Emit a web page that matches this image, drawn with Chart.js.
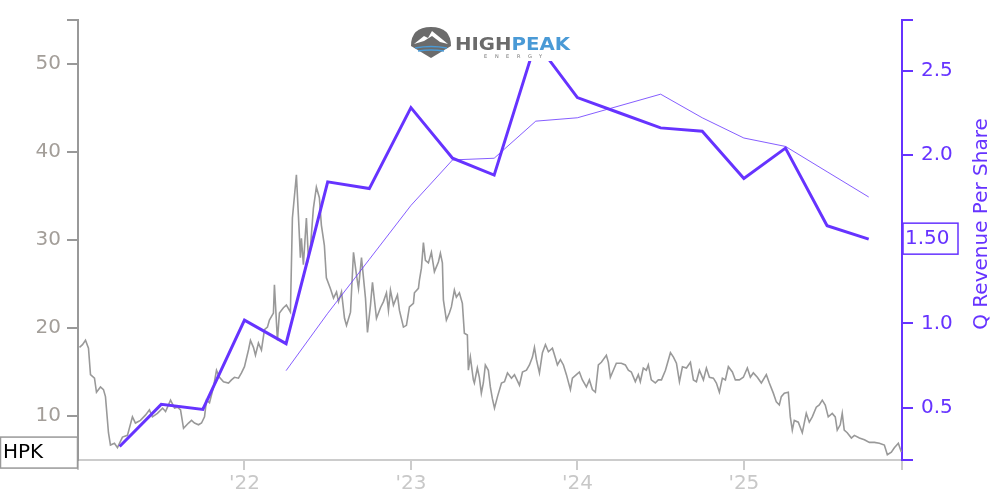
<!DOCTYPE html>
<html>
<head>
<meta charset="utf-8">
<script src="https://cdn.jsdelivr.net/npm/chart.js@4/dist/chart.umd.min.js"></script>
<style>
  body { margin: 0; background: #fff; }
</style>
</head>
<body>
<canvas id="myChart" width="1000" height="500"></canvas>
<script>
// HPK daily close (approx), x in decimal years
const priceYears = [
  2021.009, 2021.027, 2021.045, 2021.063, 2021.075, 2021.099, 2021.111, 2021.135, 2021.153, 2021.165,
  2021.183, 2021.195, 2021.219, 2021.237, 2021.267, 2021.297, 2021.327, 2021.345, 2021.375, 2021.405,
  2021.429, 2021.447, 2021.477, 2021.508, 2021.526, 2021.556, 2021.580, 2021.598, 2021.616, 2021.634,
  2021.664, 2021.682, 2021.700, 2021.724, 2021.742, 2021.760, 2021.772, 2021.790, 2021.814, 2021.832,
  2021.850, 2021.874, 2021.904, 2021.922, 2021.940, 2021.964, 2021.982, 2022.000, 2022.024, 2022.036,
  2022.054, 2022.066, 2022.084, 2022.102, 2022.120, 2022.138, 2022.150, 2022.174, 2022.180, 2022.198,
  2022.210, 2022.234, 2022.252, 2022.276, 2022.288, 2022.312, 2022.324, 2022.336, 2022.342, 2022.354,
  2022.372, 2022.384, 2022.396, 2022.414, 2022.432, 2022.450, 2022.462, 2022.480, 2022.492, 2022.516,
  2022.535, 2022.553, 2022.565, 2022.583, 2022.601, 2022.613, 2022.637, 2022.655, 2022.673, 2022.685,
  2022.703, 2022.727, 2022.739, 2022.757, 2022.769, 2022.793, 2022.817, 2022.835, 2022.853, 2022.865,
  2022.877, 2022.895, 2022.919, 2022.931, 2022.955, 2022.973, 2022.991, 2023.015, 2023.021, 2023.045,
  2023.051, 2023.063, 2023.075, 2023.087, 2023.105, 2023.123, 2023.141, 2023.165, 2023.177, 2023.189,
  2023.195, 2023.213, 2023.231, 2023.243, 2023.261, 2023.273, 2023.291, 2023.309, 2023.321, 2023.339,
  2023.345, 2023.357, 2023.375, 2023.381, 2023.399, 2023.411, 2023.423, 2023.435, 2023.447, 2023.465,
  2023.477, 2023.489, 2023.502, 2023.520, 2023.544, 2023.562, 2023.580, 2023.604, 2023.622, 2023.652,
  2023.670, 2023.694, 2023.712, 2023.730, 2023.742, 2023.754, 2023.772, 2023.790, 2023.808, 2023.826,
  2023.850, 2023.868, 2023.880, 2023.898, 2023.916, 2023.934, 2023.958, 2023.970, 2023.994, 2024.012,
  2024.030, 2024.054, 2024.072, 2024.090, 2024.108, 2024.126, 2024.144, 2024.174, 2024.186, 2024.198,
  2024.216, 2024.234, 2024.264, 2024.288, 2024.306, 2024.324, 2024.348, 2024.366, 2024.378, 2024.396,
  2024.414, 2024.426, 2024.444, 2024.468, 2024.486, 2024.505, 2024.529, 2024.547, 2024.559, 2024.577,
  2024.595, 2024.613, 2024.631, 2024.655, 2024.679, 2024.697, 2024.715, 2024.733, 2024.757, 2024.775,
  2024.793, 2024.817, 2024.835, 2024.853, 2024.871, 2024.889, 2024.907, 2024.931, 2024.949, 2024.973,
  2024.997, 2025.021, 2025.039, 2025.057, 2025.081, 2025.105, 2025.135, 2025.153, 2025.177, 2025.195,
  2025.213, 2025.225, 2025.243, 2025.267, 2025.279, 2025.291, 2025.303, 2025.327, 2025.351, 2025.375,
  2025.393, 2025.411, 2025.435, 2025.453, 2025.471, 2025.489, 2025.507, 2025.531, 2025.549, 2025.561,
  2025.579, 2025.591, 2025.603, 2025.621, 2025.646, 2025.664, 2025.694, 2025.724, 2025.754, 2025.784,
  2025.814, 2025.844, 2025.862, 2025.886, 2025.904, 2025.928, 2025.946
];
const prices = [
  17.8, 18.1, 18.6, 17.7, 14.7, 14.3, 12.7, 13.3, 13.0, 12.2,
  8.1, 6.7, 6.9, 6.4, 7.6, 7.8, 9.9, 9.2, 9.5, 10.1,
  10.7, 9.9, 10.3, 10.9, 10.5, 11.8, 10.9, 11.0, 10.7, 8.6,
  9.2, 9.5, 9.2, 9.0, 9.2, 9.9, 11.8, 11.5, 13.3, 15.2,
  14.4, 13.9, 13.75, 14.1, 14.4, 14.3, 14.9, 15.6, 17.5, 18.6,
  17.8, 16.9, 18.3, 17.5, 19.8, 20.1, 20.9, 21.7, 24.9, 18.6,
  21.7, 22.3, 22.6, 21.8, 32.5, 37.4, 32.8, 28.0, 30.2, 27.2,
  32.5, 28.0, 29.1, 33.6, 36.0, 34.8, 31.7, 29.4, 25.7, 24.5,
  23.4, 24.1, 23.0, 24.1, 21.1, 20.3, 21.8, 28.6, 26.0, 24.5,
  28.0, 23.4, 19.5, 22.6, 25.2, 21.1, 22.3, 23.0, 24.0, 22.0,
  24.3, 22.6, 23.75, 22.0, 20.1, 20.3, 22.4, 22.8, 24.0, 24.5,
  25.45, 26.8, 29.7, 27.7, 27.4, 28.6, 26.4, 27.5, 28.5, 27.4,
  23.2, 20.9, 21.7, 22.4, 24.3, 23.5, 24.0, 22.8, 19.4, 19.2,
  15.2, 16.7, 14.1, 13.75, 15.45, 14.4, 12.6, 13.75, 15.8, 15.2,
  13.3, 12.0, 10.9, 12.2, 13.75, 13.9, 14.9, 14.3, 14.7, 13.5,
  15.0, 15.2, 15.8, 16.7, 17.8, 16.4, 14.9, 17.2, 18.1, 17.3,
  17.7, 16.6, 15.8, 16.4, 15.8, 14.7, 13.0, 14.3, 14.7, 15.0,
  14.1, 13.3, 14.1, 13.0, 12.7, 15.8, 16.1, 16.9, 16.1, 14.4,
  15.2, 16.0, 16.0, 15.8, 15.2, 15.0, 13.9, 14.7, 13.9, 15.45,
  15.2, 15.8, 14.1, 13.75, 14.1, 14.1, 15.2, 16.4, 17.2, 16.7,
  16.0, 13.9, 15.6, 15.45, 16.1, 14.1, 13.9, 15.2, 14.1, 15.45,
  14.4, 14.3, 13.75, 12.7, 14.3, 14.1, 15.6, 15.0, 14.1, 14.1,
  14.4, 15.45, 14.4, 14.9, 14.4, 13.75, 14.7, 13.75, 12.6, 11.6,
  11.25, 12.2, 12.6, 12.7, 9.9, 8.4, 9.5, 9.3, 8.1, 10.3,
  9.3, 9.9, 11.0, 11.25, 11.8, 11.25, 9.9, 10.3, 9.9, 8.4,
  9.0, 10.3, 8.4, 8.1, 7.5, 7.8, 7.5, 7.3, 7.0, 7.0,
  6.9, 6.7, 5.6, 5.9, 6.4, 6.9, 5.9
];

// quarterly revenue per share (thick) and trailing 4Q average (thin)
const quarterEnds = [
  2021.25, 2021.5, 2021.75, 2022.0, 2022.25, 2022.5, 2022.75, 2023.0, 2023.25, 2023.5,
  2023.75, 2024.0, 2024.25, 2024.5, 2024.75, 2025.0, 2025.25, 2025.5, 2025.75
];
const qRevenue = [
  0.27, 0.52, 0.49, 1.02, 0.88, 1.84, 1.80, 2.28, 1.98, 1.88,
  2.67, 2.34, 2.25, 2.16, 2.14, 1.86, 2.04, 1.58, 1.50
];
const ttmQuarterEnds = quarterEnds.slice(4);
const ttmRevenue = [0.72, 1.06, 1.38, 1.70, 1.97, 1.98, 2.20, 2.22, 2.29, 2.36, 2.22, 2.10, 2.05, 1.90, 1.75];

const yearTicks = [2022, 2023, 2024, 2025];
const priceTicks = [10, 20, 30, 40, 50];
const revTicks = [0.5, 1.0, 1.5, 2.0, 2.5];
const ticker = 'HPK';

const purple = '#6633ff';
const font = 'DejaVu Sans';

const xMin = 2021.0, xMax = 2025.95;

const toPts = (xs, ys) => xs.map((x, i) => ({ x: x, y: ys[i] }));

const extras = {
  id: 'extras',
  afterDraw(c) {
    const ctx = c.ctx;
    const yL = c.scales.yL, yR = c.scales.yR;
    ctx.save();

    // logo
    ctx.fillStyle = '#fff';
    ctx.fillRect(408, 22, 166, 39);
    ctx.fillStyle = '#6b6b6b';
    ctx.beginPath();
    ctx.moveTo(411, 46);
    ctx.quadraticCurveTo(411, 27, 431, 27);
    ctx.quadraticCurveTo(451, 27, 451, 46);
    ctx.lineTo(431, 58);
    ctx.closePath();
    ctx.fill();
    ctx.fillStyle = '#fff';
    ctx.beginPath();
    ctx.moveTo(414, 44);
    ctx.lineTo(424, 36);
    ctx.lineTo(428, 38);
    ctx.lineTo(432, 31);
    ctx.lineTo(448, 44);
    ctx.lineTo(440, 42);
    ctx.lineTo(432, 36);
    ctx.lineTo(424, 41);
    ctx.closePath();
    ctx.fill();
    ctx.strokeStyle = '#4a9ad6';
    ctx.lineWidth = 1.6;
    ctx.beginPath();
    ctx.moveTo(415, 48); ctx.quadraticCurveTo(431, 45, 447, 48);
    ctx.moveTo(418, 51); ctx.quadraticCurveTo(431, 49, 444, 51);
    ctx.stroke();
    ctx.font = 'bold 17px ' + font;
    ctx.textBaseline = 'alphabetic';
    ctx.textAlign = 'left';
    const wH = ctx.measureText('HIGH').width, wP = ctx.measureText('PEAK').width;
    const sx = 115 / (wH + wP);
    ctx.save();
    ctx.translate(455, 50);
    ctx.scale(sx, 1);
    ctx.fillStyle = '#6b6b6b';
    ctx.fillText('HIGH', 0, 0);
    ctx.fillStyle = '#4a9ad6';
    ctx.fillText('PEAK', wH, 0);
    ctx.restore();
    ctx.font = '5px ' + font;
    ctx.fillStyle = '#777';
    'ENERGY'.split('').forEach((ch, i) => ctx.fillText(ch, 484 + i * 11, 58));

    // last revenue value box
    const lastRev = qRevenue[qRevenue.length - 1];
    const ry = yR.getPixelForValue(lastRev);
    ctx.fillStyle = '#fff';
    ctx.fillRect(903, ry - 16, 55, 31);
    ctx.strokeStyle = purple;
    ctx.lineWidth = 1.5;
    ctx.strokeRect(903, ry - 16, 55, 31);
    ctx.fillStyle = purple;
    ctx.font = '20px ' + font;
    ctx.textBaseline = 'middle';
    ctx.fillText(lastRev.toFixed(2), 905, ry);

    // ticker box at last price
    const py = yL.getPixelForValue(prices[prices.length - 1]);
    ctx.fillStyle = '#fff';
    ctx.fillRect(0.5, py - 15, 77, 31);
    ctx.strokeStyle = '#999';
    ctx.strokeRect(0.5, py - 15, 77, 31);
    ctx.fillStyle = '#000';
    ctx.fillText(ticker, 3, py + 1);

    // right axis title
    ctx.translate(982, 224);
    ctx.rotate(-Math.PI / 2);
    ctx.textAlign = 'center';
    ctx.fillStyle = purple;
    ctx.fillText('Q Revenue Per Share', 0, 0);
    ctx.restore();
  }
};

new Chart(document.getElementById('myChart'), {
  type: 'line',
  data: {
    datasets: [
      {
        data: toPts(quarterEnds, qRevenue),
        yAxisID: 'yR',
        borderColor: purple,
        borderWidth: 3,
        pointRadius: 0,
        order: 1
      },
      {
        data: toPts(ttmQuarterEnds, ttmRevenue),
        yAxisID: 'yR',
        borderColor: purple,
        borderWidth: 0.8,
        pointRadius: 0,
        order: 2
      },
      {
        data: toPts(priceYears, prices),
        yAxisID: 'yL',
        borderColor: '#999999',
        borderWidth: 1.6,
        pointRadius: 0,
        order: 3
      }
    ]
  },
  options: {
    responsive: false,
    animation: false,
    layout: { padding: { top: 20, left: 0, right: 0, bottom: 0 } },
    plugins: { legend: { display: false }, tooltip: { enabled: false } },
    scales: {
      x: {
        type: 'linear',
        min: xMin,
        max: xMax,
        afterFit: (s) => { s.height = 40; },
        afterBuildTicks: (s) => {
          s.ticks = [xMin].concat(yearTicks, [xMax]).map(v => ({ value: v }));
        },
        ticks: {
          autoSkip: false,
          maxRotation: 0,
          color: '#c8c8c8',
          font: { family: font, size: 20 },
          padding: 2,
          callback: (v) => yearTicks.includes(v) ? "'" + String(v).slice(2) : ''
        },
        grid: { drawOnChartArea: false, tickLength: 10, color: '#cccccc', lineWidth: 2 },
        border: { color: '#cccccc', width: 2 }
      },
      yL: {
        position: 'left',
        min: 5,
        max: 55,
        afterFit: (s) => { s.width = 78; },
        afterBuildTicks: (s) => {
          s.ticks = priceTicks.concat([55]).map(v => ({ value: v }));
        },
        ticks: {
          color: '#a39e99',
          font: { family: font, size: 20 },
          padding: 6,
          callback: (v) => priceTicks.includes(v) ? String(v) : ''
        },
        grid: { drawOnChartArea: false, tickLength: 11, color: '#999999', lineWidth: 2 },
        border: { color: '#999999', width: 2 }
      },
      yR: {
        position: 'right',
        min: 0.19,
        max: 2.8,
        afterFit: (s) => { s.width = 98; },
        afterBuildTicks: (s) => {
          s.ticks = [0.19].concat(revTicks, [2.8]).map(v => ({ value: v }));
        },
        ticks: {
          color: purple,
          font: { family: font, size: 20 },
          padding: 8,
          callback: (v) => revTicks.includes(v) ? v.toFixed(1) : ''
        },
        grid: { drawOnChartArea: false, tickLength: 11, color: purple, lineWidth: 2 },
        border: { color: purple, width: 2 }
      }
    }
  },
  plugins: [extras]
});
</script>
</body>
</html>
